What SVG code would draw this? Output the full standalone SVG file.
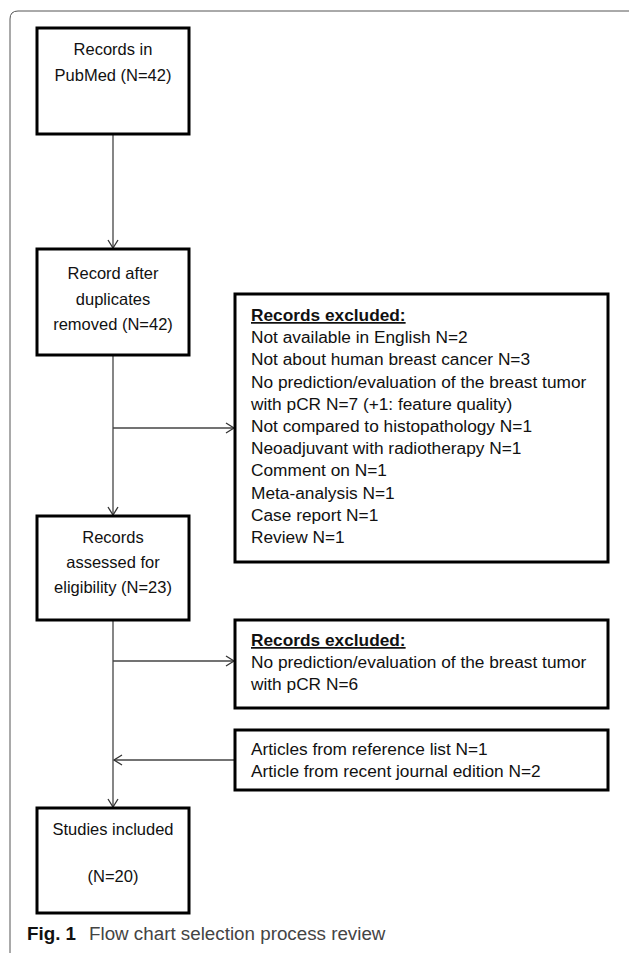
<svg xmlns="http://www.w3.org/2000/svg" width="629" height="953" viewBox="0 0 629 953">
<defs>
<marker id="arr" markerUnits="userSpaceOnUse" markerWidth="12" markerHeight="12" viewBox="0 0 12 12" refX="9" refY="6" orient="auto">
<path d="M1,1 L9,6 L1,11" fill="none" stroke="#333" stroke-width="1.3"/>
</marker>
<style>
.box{fill:#fff;stroke:#000;stroke-width:3}
.ctr{font-family:"Liberation Sans",Arial,sans-serif;font-size:16.5px;fill:#111;text-anchor:middle}
.lst{font-family:"Liberation Sans",Arial,sans-serif;font-size:17.3px;fill:#111}
.ttl{font-weight:bold;text-decoration:underline}
.con{fill:none;stroke:#444;stroke-width:1.3}
.frame{fill:none;stroke:#555;stroke-width:1}
.cap{font-family:"Liberation Sans",Arial,sans-serif;font-size:18.8px;fill:#444}
</style>
</defs>
<rect width="629" height="953" fill="#fff"/>
<path class="frame" d="M10,953 L10,19 Q10,11 18,11 L629,11"/>
<g id="connectors">
<line class="con" x1="113" y1="134" x2="113" y2="248" marker-end="url(#arr)"/>
<line class="con" x1="113" y1="355" x2="113" y2="515" marker-end="url(#arr)"/>
<line class="con" x1="113" y1="428" x2="234" y2="428" marker-end="url(#arr)"/>
<line class="con" x1="113" y1="620" x2="113" y2="807" marker-end="url(#arr)"/>
<line class="con" x1="113" y1="661" x2="234" y2="661" marker-end="url(#arr)"/>
<line class="con" x1="235" y1="760" x2="114" y2="760" marker-end="url(#arr)"/>
</g>
<g id="n1">
<rect class="box" x="37" y="28" width="152" height="106"/>
<text class="ctr" x="113" y="55">Records in</text>
<text class="ctr" x="113" y="81">PubMed (N=42)</text>
</g>
<g id="n2">
<rect class="box" x="37" y="249" width="152" height="106"/>
<text class="ctr" x="113" y="279">Record after</text>
<text class="ctr" x="113" y="304.5">duplicates</text>
<text class="ctr" x="113" y="330">removed (N=42)</text>
</g>
<g id="n3">
<rect class="box" x="235" y="294" width="373" height="268"/>
<text class="lst" x="251"><tspan x="251" y="321" class="ttl">Records excluded:</tspan><tspan x="251" y="343.2">Not available in English N=2</tspan><tspan x="251" y="365.4">Not about human breast cancer N=3</tspan><tspan x="251" y="387.6">No prediction/evaluation of the breast tumor</tspan><tspan x="251" y="409.8">with pCR N=7 (+1: feature quality)</tspan><tspan x="251" y="432">Not compared to histopathology N=1</tspan><tspan x="251" y="454.2">Neoadjuvant with radiotherapy N=1</tspan><tspan x="251" y="476.4">Comment on N=1</tspan><tspan x="251" y="498.6">Meta-analysis N=1</tspan><tspan x="251" y="520.8">Case report N=1</tspan><tspan x="251" y="543">Review N=1</tspan></text>
</g>
<g id="n4">
<rect class="box" x="37" y="516" width="152" height="104"/>
<text class="ctr" x="113" y="543">Records</text>
<text class="ctr" x="113" y="568">assessed for</text>
<text class="ctr" x="113" y="593">eligibility (N=23)</text>
</g>
<g id="n5">
<rect class="box" x="235" y="620" width="373" height="88"/>
<text class="lst" x="251"><tspan x="251" y="646" class="ttl">Records excluded:</tspan><tspan x="251" y="668">No prediction/evaluation of the breast tumor</tspan><tspan x="251" y="690">with pCR N=6</tspan></text>
</g>
<g id="n6">
<rect class="box" x="235" y="730" width="373" height="60"/>
<text class="lst" x="251"><tspan x="251" y="755">Articles from reference list N=1</tspan><tspan x="251" y="777">Article from recent journal edition N=2</tspan></text>
</g>
<g id="n7">
<rect class="box" x="37" y="808" width="152" height="105"/>
<text class="ctr" x="113" y="835">Studies included</text>
<text class="ctr" x="113" y="882">(N=20)</text>
</g>
<text class="cap" x="27" y="940"><tspan font-weight="bold" fill="#111">Fig. 1</tspan><tspan x="89">Flow chart selection process review</tspan></text>
</svg>
